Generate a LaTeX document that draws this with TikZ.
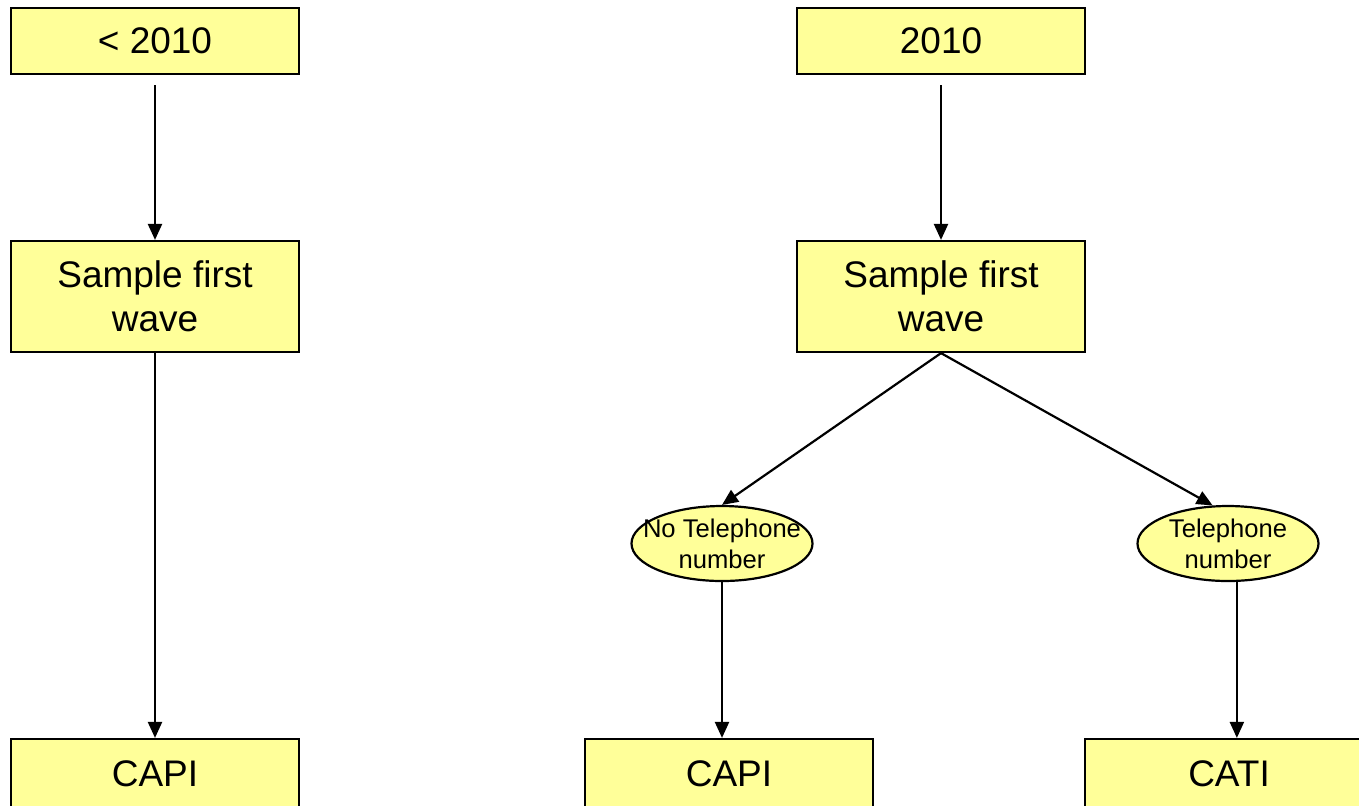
\documentclass[tikz,border=0pt]{standalone}
\usepackage{fontspec}
\setmainfont{Liberation Sans}
\usetikzlibrary{shapes.geometric,arrows.meta}
\definecolor{paleyellow}{HTML}{FFFF99}
\begin{document}
\begin{tikzpicture}[x=0.5pt,y=-0.5pt,line width=1.1pt,>={Triangle[length=8pt,width=7pt]},
  box/.style={draw,fill=paleyellow,minimum width=144pt,inner sep=0pt,align=center,
    font=\fontsize{18.5}{22}\selectfont},
  oval/.style={draw,fill=paleyellow,ellipse,minimum width=90.5pt,minimum height=37.5pt,inner sep=0pt},
  ovaltext/.style={align=center,font=\fontsize{12.8}{15.5}\selectfont}]
\useasboundingbox[clip] (0,0) rectangle (1359,805);
% before 2010
\node[box,minimum height=33pt] (old) at (155,41) {< 2010};
\node[box,minimum height=55.5pt] (oldsample) at (155,296.5) {Sample first\\wave};
\node[box,minimum height=35pt] (oldcapi) at (155,774) {CAPI};
\draw[->,shorten <=5pt] (old) -- (oldsample);
\draw[->] (oldsample) -- (oldcapi);
% 2010
\node[box,minimum height=33pt] (new) at (941,41) {2010};
\node[box,minimum height=55.5pt] (newsample) at (941,296.5) {Sample first\\wave};
\node[oval] (notel) at (722,543.5) {};
\node[ovaltext] at (notel) {No Telephone\\number};
\node[oval] (tel) at (1228,543.5) {};
\node[ovaltext] at (tel) {Telephone\\number};
\node[box,minimum height=35pt] (newcapi) at (729,774) {CAPI};
\node[box,minimum height=35pt] (cati) at (1229,774) {CATI};
\draw[->,shorten <=5pt] (new) -- (newsample);
\draw[->] (newsample.south) -- (notel.north);
\draw[->] (newsample.south) -- (tel.112);
\draw[->] (notel.south) -- (notel.south |- newcapi.north);
\draw[->] (tel.283) -- (tel.283 |- cati.north);
\end{tikzpicture}
\end{document}
